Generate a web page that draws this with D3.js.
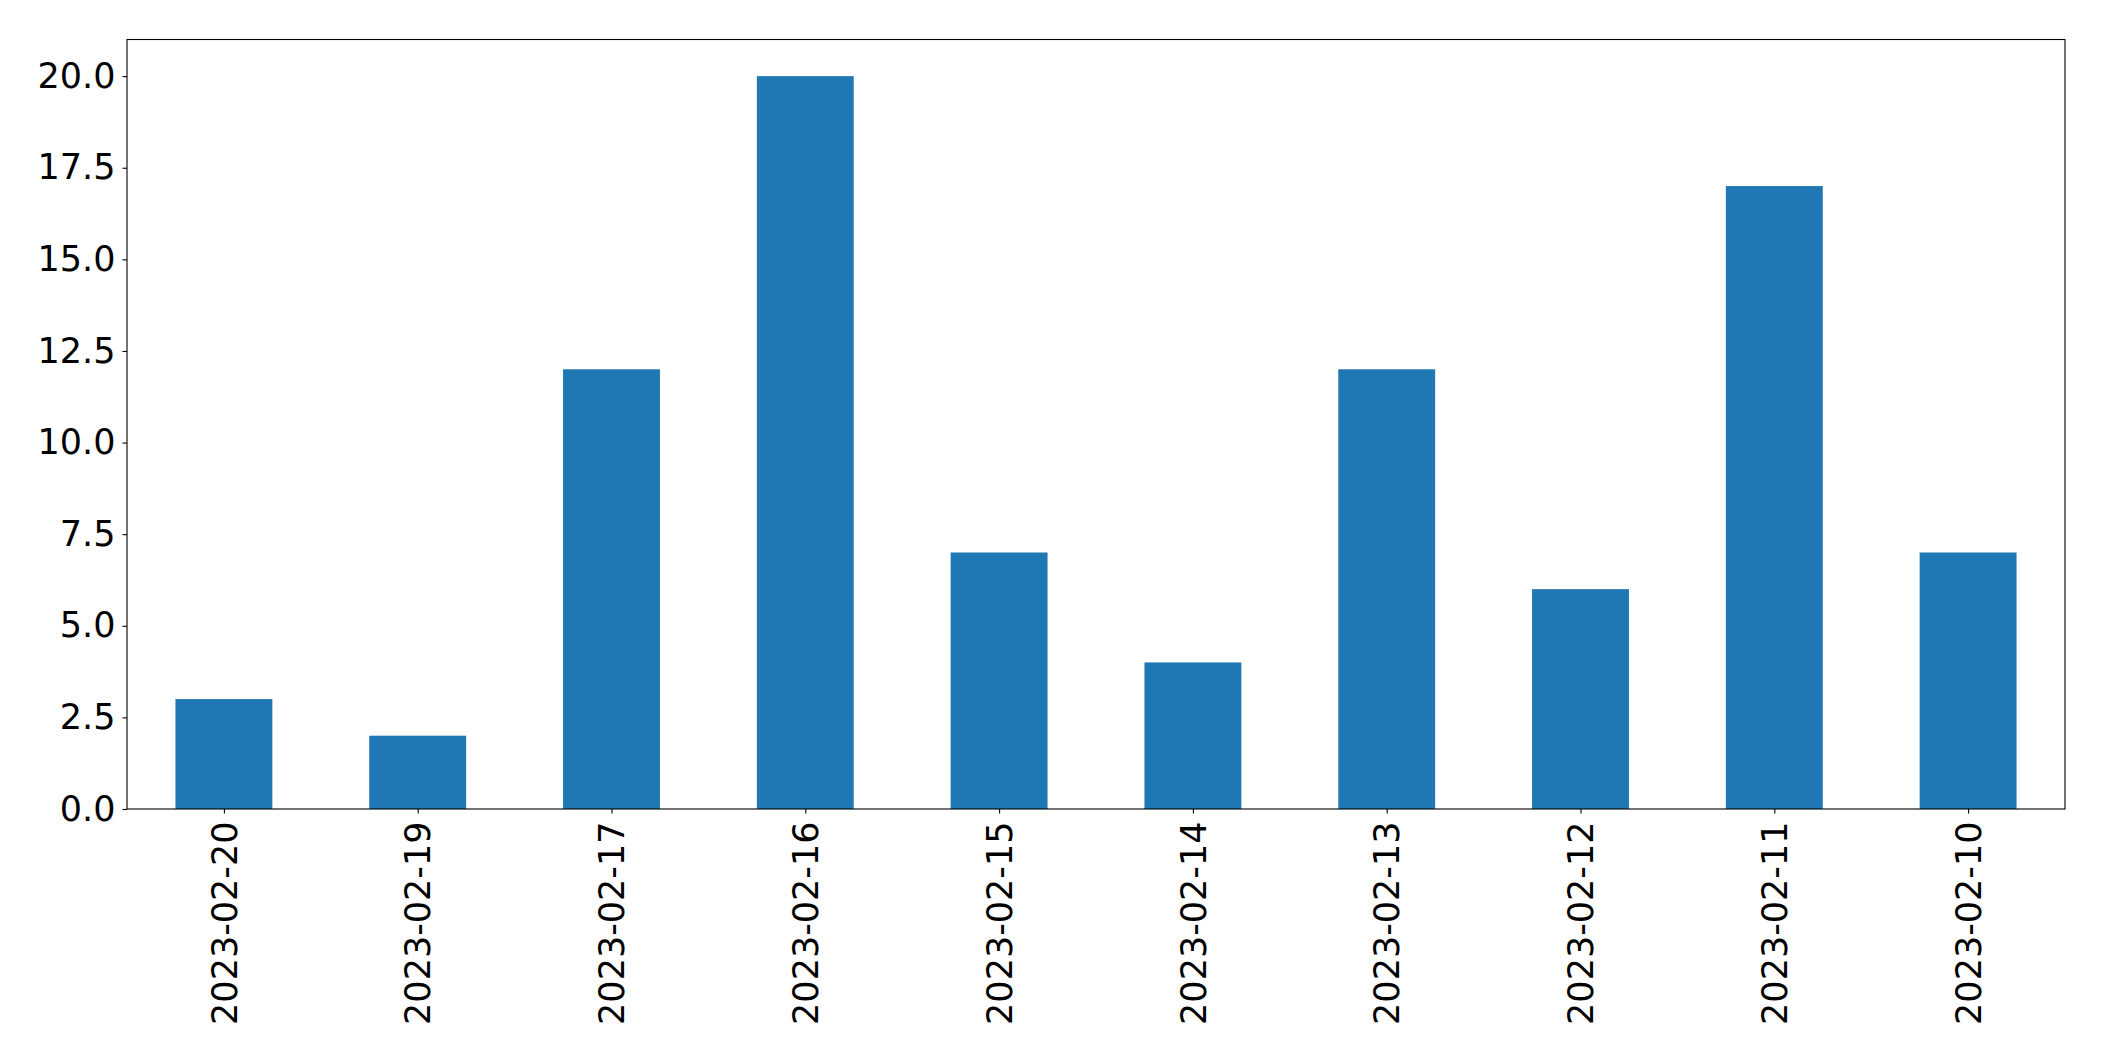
<!DOCTYPE html>
<html>
<head>
<meta charset="utf-8">
<script src="https://cdn.jsdelivr.net/npm/d3@7"></script>
<style>
  body { margin: 0; background: #fff; }
  text { font-family: "DejaVu Sans", sans-serif; }
</style>
</head>
<body>
<div id="chart"></div>
<script>
// data
var dates = ['2023-02-20', '2023-02-19', '2023-02-17', '2023-02-16', '2023-02-15',
  '2023-02-14', '2023-02-13', '2023-02-12', '2023-02-11', '2023-02-10']
var counts = [3, 2, 12, 20, 7, 4, 12, 6, 17, 7]
var yTicks = [0, 2.5, 5, 7.5, 10, 12.5, 15, 17.5, 20]

var width = 2104
var height = 1061
var margin = { top: 39.5, right: 39, bottom: 252, left: 127 }
var fontSize = 35

var svg = d3.select('#chart').append('svg')
  .attr('width', width)
  .attr('height', height)

var plotW = width - margin.left - margin.right
var plotH = height - margin.top - margin.bottom

var g = svg.append('g')
  .attr('transform', 'translate(' + margin.left + ',' + margin.top + ')')

// index scale like pandas: bars at 0..n-1, range -0.5..n-0.5
var x = d3.scaleLinear()
  .domain([-0.5, dates.length - 0.5])
  .range([0, plotW])

var y = d3.scaleLinear()
  .domain([0, 21])
  .range([plotH, 0])

var barW = x(0.5) - x(0)

g.selectAll('rect.bar')
  .data(counts)
  .enter()
  .append('rect')
  .attr('class', 'bar')
  .attr('x', function (d, i) { return x(i) - barW / 2 })
  .attr('y', function (d) { return y(d) })
  .attr('width', barW)
  .attr('height', function (d) { return plotH - y(d) })
  .attr('fill', '#1f77b4')

// y axis
var yAxis = g.append('g')
  .call(d3.axisLeft(y).tickValues(yTicks).tickFormat(d3.format('.1f'))
    .tickSize(4.5).tickPadding(7))
yAxis.select('.domain').remove()
yAxis.selectAll('text')
  .style('font-size', fontSize + 'px')
  .attr('fill', '#000')
yAxis.selectAll('line').attr('stroke', '#000').attr('stroke-width', 1.1)

// x axis
var xAxis = g.append('g')
  .attr('transform', 'translate(0,' + plotH + ')')
  .call(d3.axisBottom(x).tickValues(d3.range(dates.length))
    .tickFormat(function (i) { return dates[i] })
    .tickSize(4.5).tickPadding(0))
xAxis.select('.domain').remove()
xAxis.selectAll('line').attr('stroke', '#000').attr('stroke-width', 1.1)
xAxis.selectAll('text')
  .style('font-size', fontSize + 'px')
  .attr('fill', '#000')
  .attr('y', 0)
  .attr('dy', '0.35em')
  .attr('transform', 'translate(0,12.5) rotate(-90)')
  .attr('text-anchor', 'end')

// frame
g.append('rect')
  .attr('width', plotW)
  .attr('height', plotH)
  .attr('fill', 'none')
  .attr('stroke', '#000')
  .attr('stroke-width', 1.1)
</script>
</body>
</html>
